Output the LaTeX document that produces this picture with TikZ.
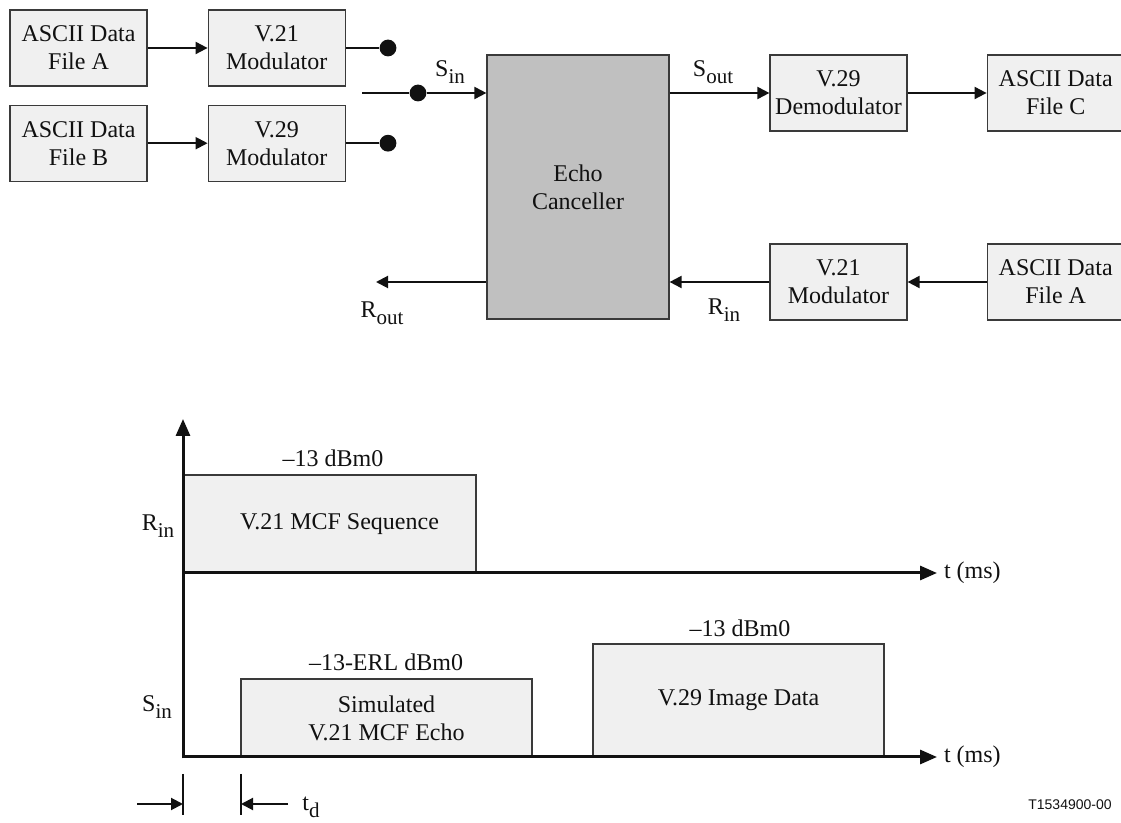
\documentclass[tikz,border=0pt]{standalone}
\usepackage{fontspec}
\setmainfont{Liberation Serif}
\newfontfamily\figsans{Liberation Sans}
\usetikzlibrary{arrows.meta,positioning}
\definecolor{echoInk}{HTML}{111111}
\definecolor{echoEdge}{HTML}{3A3A3A}
\definecolor{echoLight}{HTML}{F0F0F0}
\definecolor{echoDark}{HTML}{C0C0C0}
\newcommand\echosub[1]{\raisebox{-3.6pt}{\fontsize{10.5}{12}\selectfont #1}}
\tikzset{
  every picture/.style={font=\fontsize{12}{14}\selectfont, text=echoInk},
  echo box/.style={draw=echoEdge, line width=0.6pt, fill=echoLight, align=center,
    minimum width=68.5pt, minimum height=38pt, inner sep=0pt},
  echo canceller/.style={echo box, fill=echoDark, minimum width=91pt, minimum height=132pt},
  echo pulse/.style={draw=echoEdge, line width=0.6pt, fill=echoLight, align=center, inner sep=0pt},
  echo line/.style={draw=echoInk, line width=1pt},
  echo arrow/.style={-{Triangle[length=6pt,width=6pt]}, draw=echoInk, line width=1pt},
  echo dot/.style={circle, fill=echoInk, inner sep=0pt, minimum size=8.4pt},
  echo axis/.style={-{Triangle[length=8.5pt,width=7pt]}, draw=echoInk, line width=1.5pt},
  echo tick/.style={draw=echoInk, line width=1pt}
}
\begin{document}
\begin{tikzpicture}[x=0.5pt,y=-0.5pt]
  \useasboundingbox (0,0) rectangle (1121,823);
  \node[echo box] (fileA) at (78.5,48) {ASCII Data\\File A};
  \node[echo box, right=30pt of fileA] (modA) {V.21\\Modulator};
  \node[echo box, below=9pt of fileA] (fileB) {ASCII Data\\File B};
  \node[echo box, right=30pt of fileB] (modB) {V.29\\Modulator};
  \node[echo dot] (dotA) at (388,48) {};
  \node[echo dot] (dotB) at (dotA |- modB) {};
  \node[echo dot] (dotS) at (418,93) {};
  \coordinate (sinStart) at (362,93);
  \node[echo canceller] (echo) at (578,187) {Echo\\Canceller};
  \node[echo box] (demod) at (838.5,93) {V.29\\Demodulator};
  \node[echo box, right=39.5pt of demod] (fileC) {ASCII Data\\File C};
  \node[echo box] (modC) at (838.5,282) {V.21\\Modulator};
  \node[echo box, right=39.5pt of modC] (fileA2) {ASCII Data\\File A};
  \coordinate (rout) at (376,282);
  \draw[echo arrow] (fileA) -- (modA);
  \draw[echo arrow] (fileB) -- (modB);
  \draw[echo line] (modA) -- (dotA);
  \draw[echo line] (modB) -- (dotB);
  \draw[echo line] (sinStart) -- (dotS);
  \draw[echo arrow] (dotS) -- (dotS -| echo.west);
  \draw[echo arrow] (echo.east |- demod) -- (demod);
  \draw[echo arrow] (demod) -- (fileC);
  \draw[echo arrow] (fileA2) -- (modC);
  \draw[echo arrow] (modC) -- (modC -| echo.east);
  \draw[echo arrow] (modC -| echo.west) -- (rout);
  \node (sinLabel) at (450,72) {S\echosub{in}};
  \node (soutLabel) at (713,72) {S\echosub{out}};
  \node (rinLabel) at (724,310) {R\echosub{in}};
  \node (routLabel) at (382,313) {R\echosub{out}};

  \node[echo pulse, minimum width=146.5pt, minimum height=49pt] (mcf) at (329.5,524) {\hspace*{10pt}V.21 MCF Sequence};
  \node[echo pulse, minimum width=145.5pt, minimum height=39pt] (simEcho) at (386.5,718) {Simulated\\V.21 MCF Echo};
  \node[echo pulse, minimum width=145.5pt, minimum height=56.5pt] (image) at (738.5,700.5) {V.29 Image Data};
  \node (mcfLevel) at (333,458) {\textendash13 dBm0};
  \node (simLevel) at (386,662) {\textendash13-ERL dBm0};
  \node (imageLevel) at (740,628) {\textendash13 dBm0};
  \coordinate (yBase) at (183,758.5);
  \coordinate (yTip) at (183,419);
  \coordinate (rStart) at (183,573);
  \coordinate (sStart) at (183,757);
  \node[anchor=west] (rTime) at (937,573) {t (ms)};
  \node[anchor=west] (sTime) at (937,757) {t (ms)};
  \draw[echo axis] (rStart) -- (rTime.west);
  \draw[echo axis] (sStart) -- (sTime.west);
  \draw[echo axis] (yBase) -- (yTip);
  \node (rinAxis) at (158,526) {R\echosub{in}};
  \node (sinAxis) at (157,707) {S\echosub{in}};

  \coordinate (tdTopA) at (183,774);
  \coordinate (tdBotA) at (183,815);
  \coordinate (tdTopB) at (241,774);
  \coordinate (tdBotB) at (241,815);
  \coordinate (tdLeft) at (137,804);
  \coordinate (tdRight) at (288,804);
  \draw[echo tick] (tdTopA) -- (tdBotA);
  \draw[echo tick] (tdTopB) -- (tdBotB);
  \draw[echo arrow] (tdLeft) -- (tdLeft -| tdTopA);
  \draw[echo arrow] (tdRight) -- (tdRight -| tdTopB);
  \node (tdLabel) at (311,807) {t\echosub{d}};
  \node[font=\figsans\fontsize{7}{8}\selectfont] (figId) at (1070,805) {T1534900-00};
\end{tikzpicture}
\end{document}
